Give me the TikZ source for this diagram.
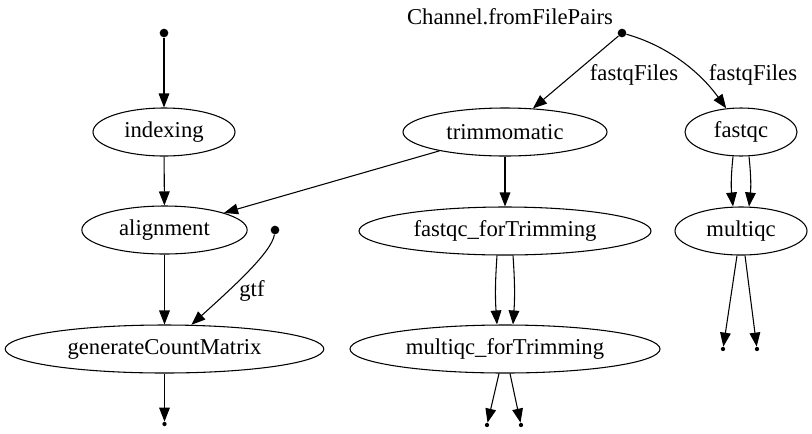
\documentclass[tikz,border=0pt]{standalone}
\usepackage{fontspec}
\setmainfont{Liberation Serif}
\usetikzlibrary{arrows.meta,shapes.geometric}
\tikzset{
  proz/.style={ellipse,draw,line width=0.8pt,inner sep=0pt,minimum height=36pt,font=\fontsize{17}{19}\selectfont},
  punkt/.style={circle,fill,inner sep=0pt,minimum size=6.5pt},
  ende/.style={circle,fill,inner sep=0pt,minimum size=3.2pt},
  kante/.style={-{Triangle[length=10.5pt,width=8pt]},line width=0.8pt},
  etikett/.style={font=\fontsize{17}{19}\selectfont,inner sep=0pt},
}

\begin{document}
\begin{tikzpicture}[x=0.75pt,y=-0.75pt]
  \useasboundingbox (0,0) rectangle (812,433);
  \node[punkt] (start) at (164,33) {};
  \node[proz,minimum width=106.5pt] (indexing) at (164,132) {indexing};
  \node[proz,minimum width=124pt] (alignment) at (164.5,230) {alignment};
  \node[proz,minimum width=239pt] (gcm) at (164.5,349) {generateCountMatrix};
  \node[ende] (gcmout) at (164.5,424) {};
  \node[punkt] (gtf) at (275,230) {};
  \node[etikett] (gtflab) at (252,291) {gtf};
  \node[etikett] (chlab) at (510,17) {Channel.fromFilePairs};
  \node[punkt] (chan) at (622,33) {};
  \node[etikett] (fqlinks) at (634,75) {fastqFiles};
  \node[etikett] (fqrechts) at (753,75) {fastqFiles};
  \node[proz,minimum width=153pt] (trim) at (505,132) {trimmomatic};
  \node[proz,minimum width=84pt] (fastqc) at (741,132) {fastqc};
  \node[proz,minimum width=219pt] (fqtrim) at (505,231) {fastqc\_forTrimming};
  \node[proz,minimum width=232.5pt] (mqtrim) at (505,349) {multiqc\_forTrimming};
  \node[proz,minimum width=99pt] (multiqc) at (741,231) {multiqc};
  \node[ende] (mqtA) at (487,425) {};
  \node[ende] (mqtB) at (521,425) {};
  \node[ende] (mqA) at (723,349) {};
  \node[ende] (mqB) at (757,349) {};

  \draw[kante] (start) -- (indexing);
  \draw[kante] (indexing) -- (alignment);
  \draw[kante] (alignment) -- (gcm);
  \draw[kante] (gcm) -- (gcmout);
  \draw[kante] (gtf) .. controls (272,252) and (232,288) .. (gcm.42);
  \draw[kante] (chan) -- (trim);
  \draw[kante] (chan) .. controls (668,46) and (700,72) .. (fastqc.122);
  \draw[kante] (trim) -- (alignment);
  \draw[kante] (trim) -- (fqtrim);
  \draw[kante] ([xshift=-6pt]fqtrim.south) to[bend right=4] ([xshift=-6pt]mqtrim.north);
  \draw[kante] ([xshift=6pt]fqtrim.south) to[bend left=4] ([xshift=6pt]mqtrim.north);
  \draw[kante] ([xshift=-6pt]fastqc.south) to[bend right=6] ([xshift=-6pt]multiqc.north);
  \draw[kante] ([xshift=6pt]fastqc.south) to[bend left=6] ([xshift=6pt]multiqc.north);
  \draw[kante] ([xshift=-4.5pt]mqtrim.south) -- (mqtA);
  \draw[kante] ([xshift=3.75pt]mqtrim.south) -- (mqtB);
  \draw[kante] ([xshift=-3pt]multiqc.south) -- (mqA);
  \draw[kante] ([xshift=3pt]multiqc.south) -- (mqB);
\end{tikzpicture}
\end{document}
